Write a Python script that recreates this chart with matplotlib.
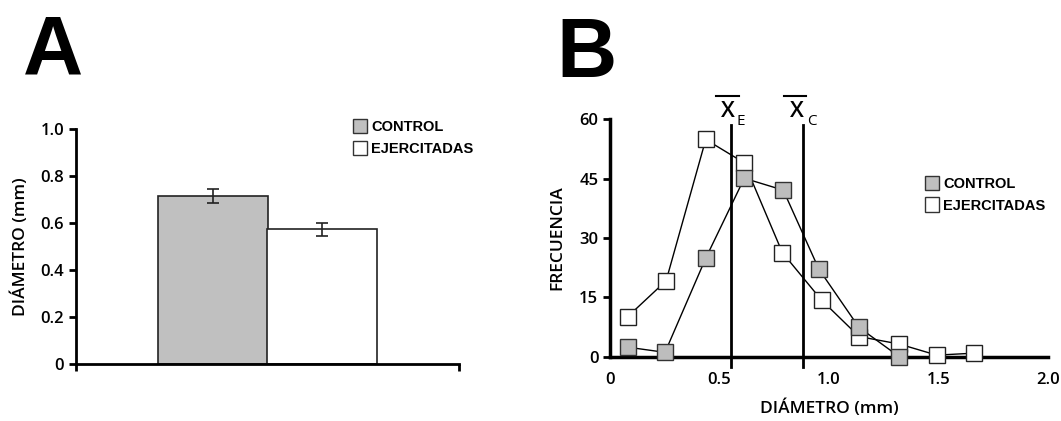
import numpy as np
import matplotlib
matplotlib.use("Agg")
import matplotlib.pyplot as plt
from matplotlib.patches import Patch

# panel A: mean diameter
groups = ["CONTROL", "EJERCITADAS"]
diam_mean = [0.716, 0.574]
diam_err = [0.03, 0.028]
bar_colors = ["#c0c0c0", "white"]

# panel B: frequency distributions
x_ejer = [0.08, 0.256, 0.437, 0.613, 0.787, 0.966, 1.137, 1.321, 1.492, 1.664]
f_ejer = [10.1, 19.2, 54.9, 49.0, 26.3, 14.3, 5.1, 3.2, 0.4, 0.9]
x_ctrl = [0.082, 0.251, 0.437, 0.613, 0.791, 0.954, 1.137, 1.321]
f_ctrl = [2.4, 1.1, 24.9, 45.1, 42.1, 22.1, 7.4, 0.0]
mean_e = 0.551
mean_c = 0.883

plt.rcParams['font.family'] = ['Open Sans', 'DejaVu Sans']
tick_font = dict(fontsize=12, fontweight='semibold')
leg_prop = dict(family='Liberation Sans', weight='bold', size=10.5)

fig = plt.figure(figsize=(10.61, 4.21), dpi=100)

# ---- A
axA = fig.add_axes([0.0716, 0.1347, 0.361, 0.5582])
axA.bar([0.358, 0.643], diam_mean, width=0.286, color=bar_colors,
        edgecolor='#222222', linewidth=1.2, yerr=diam_err, capsize=4,
        error_kw=dict(elinewidth=1.2, capthick=1.2, ecolor='#222222'))
axA.set_xlim(0, 1)
axA.set_ylim(0, 1.0)
axA.set_yticks([0, 0.2, 0.4, 0.6, 0.8, 1.0])
axA.set_yticklabels(["0", "0.2", "0.4", "0.6", "0.8", "1.0"], **tick_font)
axA.set_xticks([0, 1])
axA.set_xticklabels(["", ""])
axA.set_ylabel("DIÁMETRO (mm)", fontsize=12.5, fontweight='semibold', labelpad=8)
for s in ['top', 'right']:
    axA.spines[s].set_visible(False)
for s in ['left', 'bottom']:
    axA.spines[s].set_linewidth(2)
axA.tick_params(width=2, length=5)
hA = [Patch(facecolor=c, edgecolor='#333333', linewidth=1) for c in bar_colors]
fig.legend(hA, groups, loc='upper left', bbox_to_anchor=(0.323, 0.742),
           frameon=False, handlelength=1.0, handleheight=1.15,
           handletextpad=0.25, labelspacing=0.45, borderpad=0.2, prop=leg_prop)

# ---- B
axB = fig.add_axes([0.575, 0.1527, 0.4127, 0.5639])
axB.plot(x_ejer, f_ejer, color='black', linewidth=1, marker='s', markersize=11,
         markerfacecolor='white', markeredgecolor='#222222', markeredgewidth=1,
         zorder=3, clip_on=False)
axB.plot(x_ctrl, f_ctrl, color='black', linewidth=1, marker='s', markersize=11,
         markerfacecolor='#bdbdbd', markeredgecolor='#333333', markeredgewidth=1,
         zorder=4, clip_on=False)
for m in (mean_e, mean_c):
    axB.plot([m, m], [-2.5, 58.5], color='black', linewidth=2, clip_on=False, zorder=2)
axB.set_xlim(0, 2.0)
axB.set_ylim(0, 60)
axB.set_yticks([0, 15, 30, 45, 60])
axB.set_yticklabels(["0", "15", "30", "45", "60"], **tick_font)
axB.set_xticks([0, 0.5, 1.0, 1.5, 2.0])
axB.set_xticklabels(["0", "0.5", "1.0", "1.5", "2.0"], **tick_font)
axB.tick_params(axis='x', length=0, pad=11)
axB.set_xticks([0, 2.0], minor=True)
axB.tick_params(axis='x', which='minor', length=5, width=2)
axB.tick_params(axis='y', width=2, length=5)
axB.set_xlabel("DIÁMETRO (mm)", fontsize=12.5, fontweight='semibold', labelpad=8)
axB.set_ylabel("FRECUENCIA", fontsize=12.5, fontweight='semibold', labelpad=10)
for s in ['top', 'right']:
    axB.spines[s].set_visible(False)
for s in ['left', 'bottom']:
    axB.spines[s].set_linewidth(2.5)

# mean labels (X with overbar and subscript)
for xc, xb0, xb1, sub, xs in [(0.539, 0.484, 0.589, "E", 0.597),
                              (0.852, 0.795, 0.895, "C", 0.921)]:
    axB.text(xc, 61.9, "X", ha='center', va='center', fontsize=16,
             fontweight='semibold', clip_on=False)
    axB.plot([xb0, xb1], [66.0, 66.0], color='black', linewidth=1.5, clip_on=False)
    axB.text(xs, 59.4, sub, ha='center', va='center', fontsize=11, clip_on=False)

hB = [Patch(facecolor=c, edgecolor='#333333', linewidth=1) for c in bar_colors]
fig.legend(hB, groups, loc='upper left', bbox_to_anchor=(0.862, 0.607),
           frameon=False, handlelength=1.0, handleheight=1.15,
           handletextpad=0.25, labelspacing=0.45, borderpad=0.2, prop=leg_prop)

# panel letters
fig.text(0.022, 0.822, "A", fontsize=60, fontweight='bold', family='Liberation Sans',
         va='baseline')
fig.text(0.524, 0.817, "B", fontsize=60, fontweight='bold', family='Liberation Sans',
         va='baseline')

fig.savefig("out.png", dpi=100)
